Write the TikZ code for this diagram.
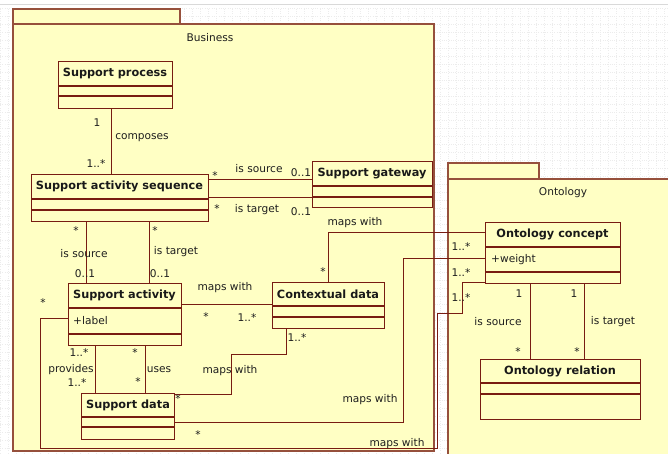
\documentclass[tikz,border=0pt]{standalone}
\usepackage{fontspec}
\setmainfont{DejaVu Sans}
\definecolor{pkgfill}{RGB}{255,255,196}
\definecolor{pkgline}{RGB}{150,80,60}
\definecolor{boxline}{RGB}{120,28,18}
\definecolor{txt}{RGB}{30,30,30}
\tikzset{
  pkg/.style={draw=pkgline, fill=pkgfill, line width=1.1pt},
  cls/.style={draw=boxline, fill=pkgfill, line width=1.1pt, inner sep=0, anchor=north west},
  sep/.style={draw=boxline, line width=1.1pt},
  conn/.style={draw=boxline, line width=0.9pt},
  lbl/.style={font=\fontsize{10.6}{12}\selectfont, text=txt, inner sep=0},
  ttl/.style={font=\fontsize{11.3}{13}\selectfont\bfseries, text=black!90, inner sep=0},
  gridc/.style={draw=gray!15, line width=0.3pt, dotted}
}
\begin{document}
\begin{tikzpicture}[x=1pt,y=-1pt]
\useasboundingbox (0,0) rectangle (668,453);
\fill[white] (0,0) rectangle (668,453);
\draw[gridc, step=8pt] (0,8) grid (668,453);
\draw[gray!30, line width=0.6pt] (0,4) -- (668,4);
% packages
\draw[pkg] (13,9) rectangle (180,24);
\draw[pkg] (13,24) rectangle (434,451);
\node[lbl] (bus) at (210,38) {Business};
\draw[pkg] (448,163) rectangle (539,179);
\draw[pkg] (448,179) rectangle (680,460);
\node[lbl] (ont) at (563,193) {Ontology};

% classes
\node[cls, minimum width=114pt, minimum height=47pt] (sp) at (58,61) {};
\draw[sep] (sp.west |- 0,86) -- (sp.east |- 0,86);
\draw[sep] (sp.west |- 0,96) -- (sp.east |- 0,96);
\node[ttl] (spt) at (115,73.5) {Support process};

\node[cls, minimum width=177pt, minimum height=47pt] (sas) at (31,174) {};
\draw[sep] (sas.west |- 0,199) -- (sas.east |- 0,199);
\draw[sep] (sas.west |- 0,210) -- (sas.east |- 0,210);
\node[ttl] (sast) at (119.5,186.5) {Support activity sequence};

\node[cls, minimum width=120pt, minimum height=46pt] (sg) at (312,161) {};
\draw[sep] (sg.west |- 0,186) -- (sg.east |- 0,186);
\draw[sep] (sg.west |- 0,197) -- (sg.east |- 0,197);
\node[ttl] (sgt) at (372,173.5) {Support gateway};

\node[cls, minimum width=113pt, minimum height=62pt] (sa) at (68,283) {};
\draw[sep] (sa.west |- 0,308) -- (sa.east |- 0,308);
\draw[sep] (sa.west |- 0,334) -- (sa.east |- 0,334);
\node[ttl] (sat) at (124.5,295.5) {Support activity};
\node[lbl, anchor=west] (sala) at (73,321) {+label};

\node[cls, minimum width=112pt, minimum height=46pt] (cd) at (272,282) {};
\draw[sep] (cd.west |- 0,306) -- (cd.east |- 0,306);
\draw[sep] (cd.west |- 0,317) -- (cd.east |- 0,317);
\node[ttl] (cdt) at (328,294) {Contextual data};

\node[cls, minimum width=93pt, minimum height=46pt] (sd) at (81,393) {};
\draw[sep] (sd.west |- 0,417) -- (sd.east |- 0,417);
\draw[sep] (sd.west |- 0,427) -- (sd.east |- 0,427);
\node[ttl] (sdt) at (128,405) {Support data};

\node[cls, minimum width=135pt, minimum height=61pt] (oc) at (485,222) {};
\draw[sep] (oc.west |- 0,247) -- (oc.east |- 0,247);
\draw[sep] (oc.west |- 0,272) -- (oc.east |- 0,272);
\node[ttl] (oct) at (552.5,234.5) {Ontology concept};
\node[lbl, anchor=west] (ocw) at (491,259.5) {+weight};

\node[cls, minimum width=160pt, minimum height=60pt] (or) at (480,359) {};
\draw[sep] (or.west |- 0,383) -- (or.east |- 0,383);
\draw[sep] (or.west |- 0,394) -- (or.east |- 0,394);
\node[ttl] (ort) at (560,371) {Ontology relation};

% bend points
\coordinate (b1) at (328,232);
\coordinate (b2) at (231,394);
\coordinate (b3) at (286,354);
\coordinate (b4) at (403,422);
\coordinate (b5) at (403,258);
\coordinate (b6) at (40,318);
\coordinate (b7) at (40,448);
\coordinate (b8) at (437,448);
\coordinate (b9) at (437,313);
\coordinate (b10) at (462,313);
\coordinate (b11) at (462,282);

% connectors
\draw[conn] (sp.south -| 111,0) -- (sas.north -| 111,0);
\draw[conn] (sas.east |- 0,179) -- (sg.west |- 0,179);
\draw[conn] (sas.east |- 0,197) -- (sg.west |- 0,197);
\draw[conn] (sas.south -| 86,0) -- (sa.north -| 86,0);
\draw[conn] (sas.south -| 149,0) -- (sa.north -| 149,0);
\draw[conn] (sa.east |- 0,304) -- (cd.west |- 0,304);
\draw[conn] (cd.north -| b1) |- (oc.west |- b1);
\draw[conn] (sa.south -| 95,0) -- (sd.north -| 95,0);
\draw[conn] (sa.south -| 145,0) -- (sd.north -| 145,0);
\draw[conn] (sd.east |- b2) -- (b2) |- (b3) -- (cd.south -| b3);
\draw[conn] (sd.east |- b4) -- (b4) -- (b5) -- (oc.west |- b5);
\draw[conn] (sa.west |- b6) -- (b6) -- (b7) -- (b8) -- (b9) -- (b10) -- (b11) -- (oc.west |- b11);
\draw[conn] (oc.south -| 530,0) -- (or.north -| 530,0);
\draw[conn] (oc.south -| 584,0) -- (or.north -| 584,0);

% labels
\node[lbl] (l1) at (97,123) {1};
\node[lbl] (l2) at (142,138) {composes};
\node[lbl] (l3) at (96,164) {1..*};
\node[lbl] (l4) at (215,176) {*};
\node[lbl] (l5) at (259,169) {is source};
\node[lbl] (l6) at (301,173) {0..1};
\node[lbl] (l7) at (217,209) {*};
\node[lbl] (l8) at (257,210) {is target};
\node[lbl] (l9) at (301,212) {0..1};
\node[lbl] (l10) at (355,223) {maps with};
\node[lbl] (l11) at (323,272) {*};
\node[lbl] (l12) at (76,231) {*};
\node[lbl] (l13) at (84,254) {is source};
\node[lbl] (l14) at (85,274) {0..1};
\node[lbl] (l15) at (155,231) {*};
\node[lbl] (l16) at (176,252) {is target};
\node[lbl] (l17) at (160,274) {0..1};
\node[lbl] (l18) at (225,288) {maps with};
\node[lbl] (l19) at (43,303) {*};
\node[lbl] (l20) at (206,317) {*};
\node[lbl] (l21) at (247,318) {1..*};
\node[lbl] (l22) at (79,353) {1..*};
\node[lbl] (l23) at (71,370) {provides};
\node[lbl] (l24) at (77,383) {1..*};
\node[lbl] (l25) at (135,353) {*};
\node[lbl] (l26) at (159,370) {uses};
\node[lbl] (l27) at (138,382) {*};
\node[lbl] (l28) at (297,338) {1..*};
\node[lbl] (l29) at (230,371) {maps with};
\node[lbl] (l30) at (178,399) {*};
\node[lbl] (l31) at (370,400) {maps with};
\node[lbl] (l32) at (198,435) {*};
\node[lbl] (l33) at (397,444) {maps with};
\node[lbl] (l34) at (461,247) {1..*};
\node[lbl] (l35) at (461,273) {1..*};
\node[lbl] (l36) at (461,298) {1..*};
\node[lbl] (l37) at (519,294) {1};
\node[lbl] (l38) at (574,294) {1};
\node[lbl] (l39) at (498,322) {is source};
\node[lbl] (l40) at (613,322) {is target};
\node[lbl] (l41) at (518,352) {*};
\node[lbl] (l42) at (577,352) {*};
\end{tikzpicture}
\end{document}
